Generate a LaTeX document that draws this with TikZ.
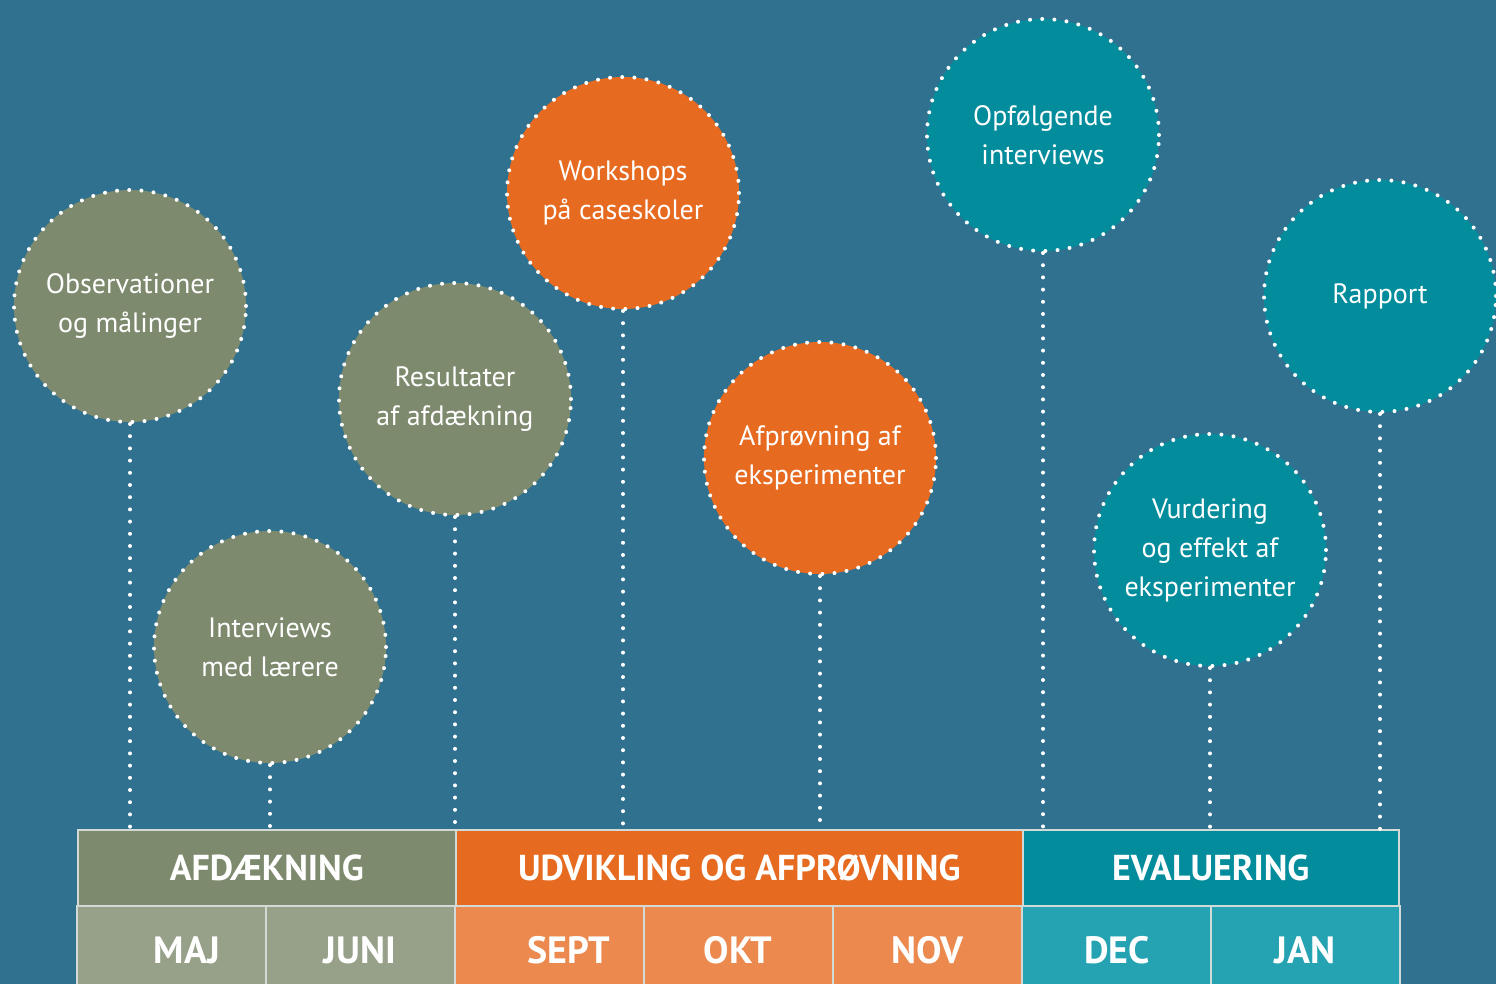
\documentclass[tikz,border=0pt]{standalone}
\usepackage{fontspec}
\setmainfont{PT Sans}

\definecolor{bgblue}{HTML}{30718F}
\definecolor{olive}{HTML}{7E8A6E}
\definecolor{oliveL}{HTML}{97A088}
\definecolor{orange}{HTML}{E66A1F}
\definecolor{orangeL}{HTML}{EB894E}
\definecolor{teal}{HTML}{028C9C}
\definecolor{tealL}{HTML}{25A3B2}
\definecolor{gridline}{HTML}{D2DAD8}

\begin{document}
\begin{tikzpicture}[x=1pt, y=-1pt,
  bubble/.style={circle, minimum size=232pt, inner sep=0pt, align=center, text=white,
    font=\fontsize{28}{39}\selectfont},
  dotline/.style={draw=white, line width=4pt, line cap=round, dash pattern=on 0pt off 12.2pt},
  phase/.style={draw=gridline, line width=1.5pt, minimum height=77pt, anchor=north west,
    inner sep=0pt, text=white, font=\bfseries\fontsize{36}{36}\selectfont},
  month/.style={text=white, font=\bfseries\fontsize{38}{38}\selectfont}]

  % Background
  \useasboundingbox (0,0) rectangle (1496,984);
  \fill[bgblue] (0,0) rectangle (1496,984);

  % Phases
  \node[phase, fill=olive, minimum width=378pt] (afd) at (77,829) {AFDÆKNING};
  \node[phase, fill=orange, minimum width=567pt] (udv) at (455,829) {UDVIKLING OG AFPRØVNING};
  \node[phase, fill=teal, minimum width=376pt] (eval) at (1022,829) {EVALUERING};

  % Months
  \foreach \x/\c in {77/oliveL, 266/oliveL, 455/orangeL, 644/orangeL, 833/orangeL, 1022/tealL, 1211/tealL}
    \draw[gridline, line width=1.5pt, fill=\c] (\x,906) rectangle ++(189,82);
  \foreach \x/\m in {187/MAJ, 360/JUNI, 569/SEPT, 738/OKT, 927/NOV, 1117/DEC, 1305/JAN}
    \node[month] (\m) at (\x,950) {\m};

  % Bubbles
  \node[bubble, fill=olive, dotline] (obs) at (130,306) {Observationer\\og målinger};
  \node[bubble, fill=olive, dotline] (intv) at (270,647) {Interviews\\med lærere};
  \node[bubble, fill=olive, dotline] (res) at (455,399) {Resultater\\af afdækning};
  \node[bubble, fill=orange, dotline] (work) at (623,193) {Workshops\\på caseskoler};
  \node[bubble, fill=orange, dotline] (afpr) at (820,458) {Afprøvning af\\eksperimenter};
  \node[bubble, fill=teal, dotline] (opf) at (1043,135) {Opfølgende\\interviews};
  \node[bubble, fill=teal, dotline] (vurd) at (1210,550) {Vurdering\\og effekt af\\eksperimenter};
  \node[bubble, fill=teal, dotline] (rap) at (1380,296) {Rapport};

  % Dotted stems
  \draw[dotline] (obs) -- (obs |- afd.north);
  \draw[dotline] (intv) -- (intv |- afd.north);
  \draw[dotline] (res) -- (res |- afd.north);
  \draw[dotline] (work) -- (work |- udv.north);
  \draw[dotline] (afpr) -- (afpr |- udv.north);
  \draw[dotline] (opf) -- (opf |- eval.north);
  \draw[dotline] (vurd) -- (vurd |- eval.north);
  \draw[dotline] (rap) -- (rap |- eval.north);
\end{tikzpicture}
\end{document}
